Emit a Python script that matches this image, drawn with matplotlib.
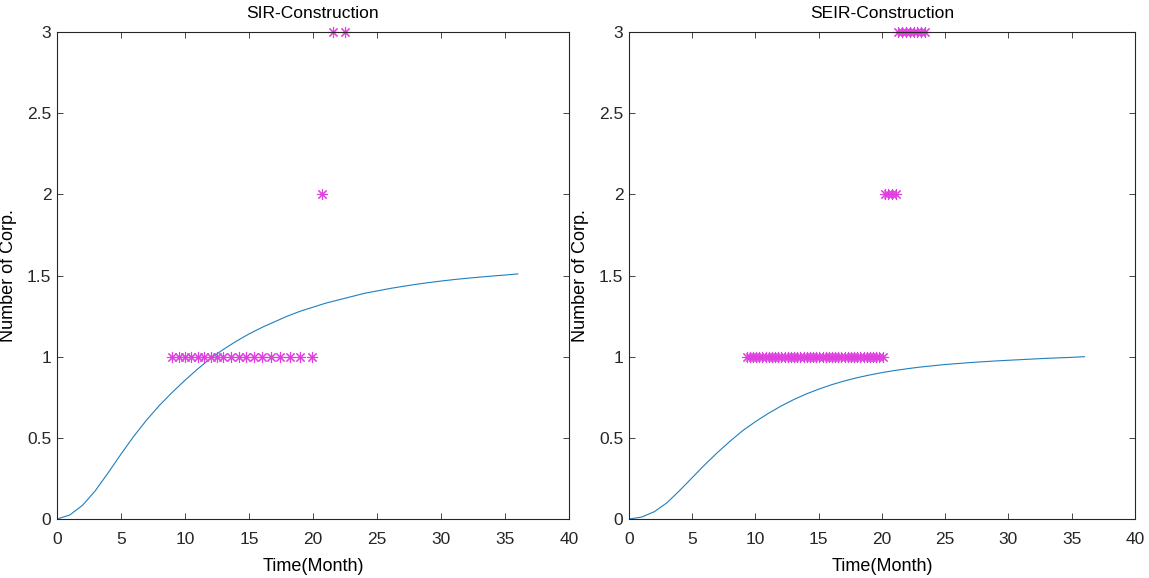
import matplotlib.pyplot as plt

plt.rcParams["font.family"] = ["Liberation Sans Narrow", "Liberation Sans", "DejaVu Sans"]

# SIR model curve
sir_t = list(range(0, 37))
sir_y = [0.0, 0.025, 0.085, 0.175, 0.285, 0.40, 0.51, 0.61, 0.70, 0.78, 0.855, 0.925,
         0.99, 1.045, 1.095, 1.14, 1.18, 1.215, 1.25, 1.28, 1.305, 1.33, 1.35, 1.37,
         1.39, 1.405, 1.42, 1.433, 1.445, 1.456, 1.466, 1.475, 1.483, 1.49, 1.497, 1.503, 1.51]

# SIR observed corps
sir_obs_t = [9.0, 9.5, 10.0, 10.5, 11.0, 11.5, 12.0, 12.5, 13.0, 13.6, 14.2, 14.8,
             15.4, 16.0, 16.7, 17.4, 18.2, 19.0, 19.9, 20.7, 21.6, 22.5]
sir_obs_y = [1] * 19 + [2, 3, 3]

# SEIR model curve
seir_t = list(range(0, 37))
seir_y = [0.0, 0.012, 0.045, 0.10, 0.175, 0.255, 0.335, 0.41, 0.48, 0.545, 0.60, 0.65,
          0.695, 0.735, 0.77, 0.80, 0.827, 0.85, 0.87, 0.887, 0.902, 0.915, 0.926,
          0.936, 0.944, 0.952, 0.958, 0.964, 0.969, 0.974, 0.978, 0.982, 0.986, 0.99,
          0.993, 0.996, 1.0]

# SEIR observed corps
seir_obs_t = [9.3 + 0.25 * i for i in range(44)] + [20.2, 20.5, 20.8, 21.1] + \
             [21.3, 21.6, 21.9, 22.2, 22.5, 22.8, 23.1, 23.4]
seir_obs_y = [1] * 44 + [2] * 4 + [3] * 8

fig = plt.figure(figsize=(11.49, 5.78), dpi=100)
ax1 = fig.add_axes([0.0496, 0.102, 0.4456, 0.8426])
ax2 = fig.add_axes([0.5474, 0.102, 0.4404, 0.8426])

ASTERISK = (8, 2, 0)


def style_axes(ax, title):
    ax.set_xlim(0, 40)
    ax.set_ylim(0, 3)
    ax.set_xticks(range(0, 41, 5))
    ax.set_yticks([0, 0.5, 1, 1.5, 2, 2.5, 3])
    ax.set_yticklabels(["0", "0.5", "1", "1.5", "2", "2.5", "3"])
    ax.tick_params(direction="in", top=True, right=True, labelsize=12.5,
                   colors="#262626", length=4, width=0.6)
    ax.tick_params(axis="x", pad=9)
    ax.tick_params(axis="y", pad=4)
    for s in ax.spines.values():
        s.set_color("#262626")
        s.set_linewidth(0.8)
    ax.set_xlabel("Time(Month)", fontsize=13, labelpad=8)
    ax.set_ylabel("Number of Corp.", fontsize=13)
    ax.yaxis.set_label_coords(-0.078, 0.5)
    ax.set_title(title, fontsize=12.5, pad=10)


ax1.plot(sir_t, sir_y, color="#1F7FC0", linewidth=0.8)
ax1.plot(sir_obs_t, sir_obs_y, linestyle="none", marker=ASTERISK, color="#E040E0",
         markersize=8, markeredgewidth=0.8, clip_on=False)
style_axes(ax1, "SIR-Construction")

ax2.plot(seir_t, seir_y, color="#1F7FC0", linewidth=0.8)
ax2.plot(seir_obs_t, seir_obs_y, linestyle="none", marker=ASTERISK, color="#E040E0",
         markersize=8, markeredgewidth=0.8, clip_on=False)
style_axes(ax2, "SEIR-Construction")

plt.savefig("out.png", dpi=100)
